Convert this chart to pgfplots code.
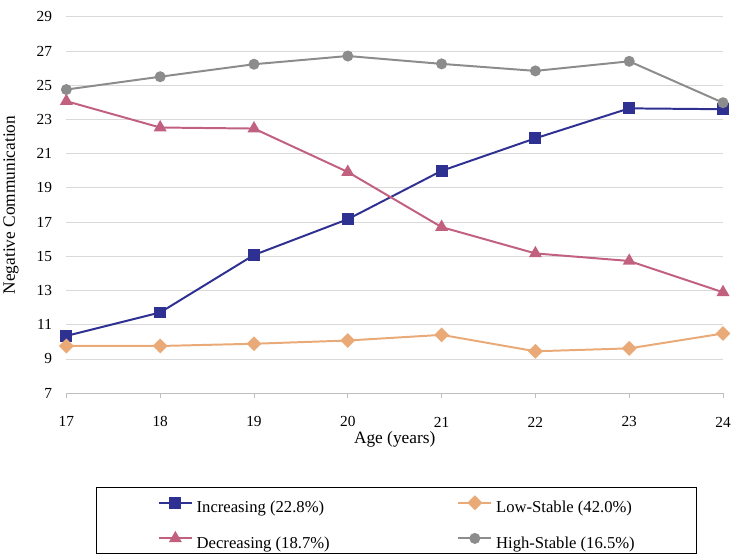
\documentclass[border=0pt]{standalone}
\usepackage{pgfplots}
\pgfplotsset{compat=1.18}
\usepackage{fontspec}
\setmainfont{Liberation Serif}
\definecolor{inc}{RGB}{46,49,146}
\definecolor{dec}{RGB}{194,96,128}
\definecolor{low}{RGB}{233,170,120}
\definecolor{high}{RGB}{140,140,140}
\definecolor{gridc}{RGB}{217,217,217}
\definecolor{axc}{RGB}{191,191,191}
\begin{document}
\begin{tikzpicture}
\begin{axis}[
  name=ax,
  scale only axis,
  width=663pt, height=380pt,
  xmin=17, xmax=24, ymin=7, ymax=29,
  xtick={17,...,24}, ytick={7,9,...,29},
  axis x line*=bottom, axis y line*=left,
  y axis line style={draw=none},
  x axis line style={draw=axc, line width=1pt, -},
  ymajorgrids, grid style={gridc, line width=0.9pt},
  xtick style={draw=axc, line width=0.9pt},
  ytick style={draw=none},
  tick align=outside, major tick length=5pt,
  /pgf/number format/assume math mode=true,
  ticklabel style={font=\fontsize{15.5}{16}\selectfont},
  xticklabel style={anchor=center, yshift=-24pt},
  yticklabel style={anchor=east, xshift=-6pt},
  xlabel={Age (years)},
  ylabel={Negative Communication},
  label style={font=\fontsize{17.5}{18}\selectfont},
  xlabel style={at={([yshift=-47pt]axis description cs:0.5,0)}, anchor=center},
  ylabel style={at={([xshift=-56pt]axis description cs:0,0.5)}, anchor=center},
  legend columns=2,
  legend cell align=left,
  legend style={
    at={(rel axis cs:0.0452,-0.2500)}, anchor=north west,
    draw=black, line width=1.2pt,
    inner xsep=62pt, inner ysep=5pt,
    font=\fontsize{16.8}{17}\selectfont,
    nodes={inner sep=0pt, text height=20pt, text depth=0pt},
    row sep=16pt,
    /tikz/column 1/.style={column sep=4pt},
    /tikz/column 2/.style={column sep=129pt},
    /tikz/column 3/.style={column sep=4pt},
  },
  legend image code/.code={
    \draw[mark repeat=2, mark phase=2] plot coordinates {(0pt,0pt) (16.5pt,0pt) (33pt,0pt)};
  },
]
\addplot[color=inc, line width=2pt, mark=square*, mark size=5pt, mark options={solid}]
  coordinates {(17,10.35) (18,11.72) (19,15.08) (20,17.17) (21,20.0) (22,21.9) (23,23.65) (24,23.6)};
\addlegendentry{Increasing (22.8\%)}
\addplot[color=low, line width=2pt, mark=square*, mark size=4.3pt, mark options={rotate=45, solid}]
  coordinates {(17,9.76) (18,9.76) (19,9.89) (20,10.08) (21,10.41) (22,9.45) (23,9.62) (24,10.49)};
\addlegendentry{Low-Stable (42.0\%)}
\addplot[color=dec, line width=2pt, mark=triangle*, mark size=5.6pt, mark options={solid}]
  coordinates {(17,24.07) (18,22.53) (19,22.47) (20,19.93) (21,16.71) (22,15.17) (23,14.73) (24,12.9)};
\addlegendentry{Decreasing (18.7\%)}
\addplot[color=high, line width=2pt, mark=*, mark size=4.5pt, mark options={solid}]
  coordinates {(17,24.75) (18,25.5) (19,26.23) (20,26.71) (21,26.25) (22,25.84) (23,26.4) (24,23.98)};
\addlegendentry{High-Stable (16.5\%)}
\end{axis}
\path ([shift={(-64pt,-159pt)}]ax.south west) rectangle ([shift={(7pt,17pt)}]ax.north east);
\end{tikzpicture}
\end{document}
